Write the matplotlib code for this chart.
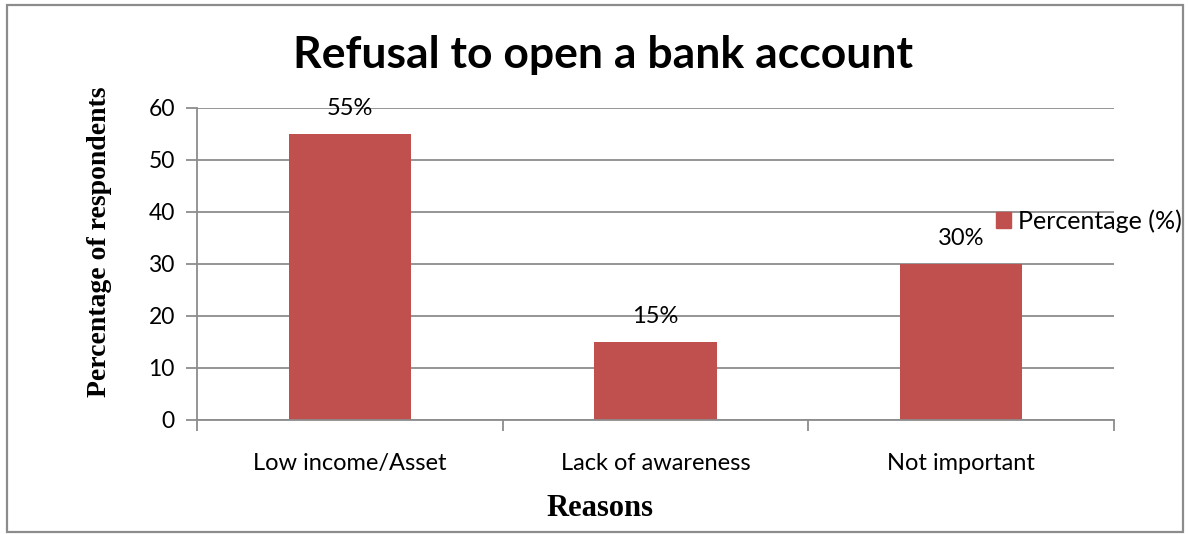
import matplotlib
matplotlib.use("Agg")
import matplotlib.pyplot as plt
from matplotlib.patches import Rectangle, Patch

reasons = ["Low income/Asset", "Lack of awareness", "Not important"]
percentages = [55, 15, 30]
y_ticks = [0, 10, 20, 30, 40, 50, 60]

BAR_COLOR = "#C0504D"
GRID_COLOR = "#8C8C8C"
SANS = ["Lato", "DejaVu Sans"]
SERIF = ["Liberation Serif", "DejaVu Serif"]

W, H = 1189, 534
fig = plt.figure(figsize=(W / 100, H / 100), dpi=100)

# outer chart frame
fig.patches.append(Rectangle((7 / W, 1 - 532 / H), (1183 - 7) / W, (532 - 5) / H,
                             transform=fig.transFigure, fill=False,
                             edgecolor=GRID_COLOR, linewidth=1.6))

ax = fig.add_axes([197 / W, 1 - 420 / H, (1114 - 197) / W, (420 - 108) / H])
x = list(range(len(reasons)))
bars = ax.bar(x, percentages, width=0.4, color=BAR_COLOR, zorder=2)

ax.set_xlim(-0.5, len(reasons) - 0.5)
ax.set_ylim(0, 60)
ax.set_yticks(y_ticks)
ax.set_yticklabels([str(v) for v in y_ticks], fontsize=16.5, family=SANS)
ax.yaxis.grid(True, color=GRID_COLOR, linewidth=1.3, zorder=0)
ax.set_axisbelow(True)

# category labels sit between the boundary tick marks
ax.set_xticks([i - 0.5 for i in range(len(reasons) + 1)])
ax.set_xticklabels([])
ax.set_xticks(x, minor=True)
ax.set_xticklabels(reasons, minor=True, fontsize=17, family=SANS)
ax.tick_params(axis="x", which="minor", length=0, pad=24)
ax.tick_params(axis="x", which="major", length=8, width=1.3, color=GRID_COLOR)
ax.tick_params(axis="y", length=8, width=1.3, color=GRID_COLOR, pad=8)

for side in ("top", "right"):
    ax.spines[side].set_visible(False)
for side in ("left", "bottom"):
    ax.spines[side].set_color(GRID_COLOR)
    ax.spines[side].set_linewidth(1.3)

for rect, val in zip(bars, percentages):
    ax.annotate(f"{val}%", (rect.get_x() + rect.get_width() / 2, val),
                xytext=(0, 18.5), textcoords="offset points",
                ha="center", va="center", fontsize=17, family=SANS)

fig.text(100 / W, 1 - 242 / H, "Percentage of respondents", rotation=90,
         ha="center", va="center", fontsize=20, fontweight="bold", family=SERIF)
fig.text(600 / W, 1 - 508 / H, "Reasons", ha="center", va="center",
         fontsize=22, fontweight="bold", family=SERIF)

fig.text(603 / W, 1 - 55 / H, "Refusal to open a bank account", ha="center",
         va="center", fontsize=32, fontweight="bold", family=SANS)

fig.legend(handles=[Patch(color=BAR_COLOR, label="Percentage (%)")],
           loc="center left", bbox_to_anchor=(996 / W, 1 - 221 / H),
           frameon=False, prop={"family": SANS, "size": 18},
           handlelength=0.6, handleheight=0.6, handletextpad=0.28,
           borderaxespad=0, borderpad=0)

fig.savefig("out.png", dpi=100)
